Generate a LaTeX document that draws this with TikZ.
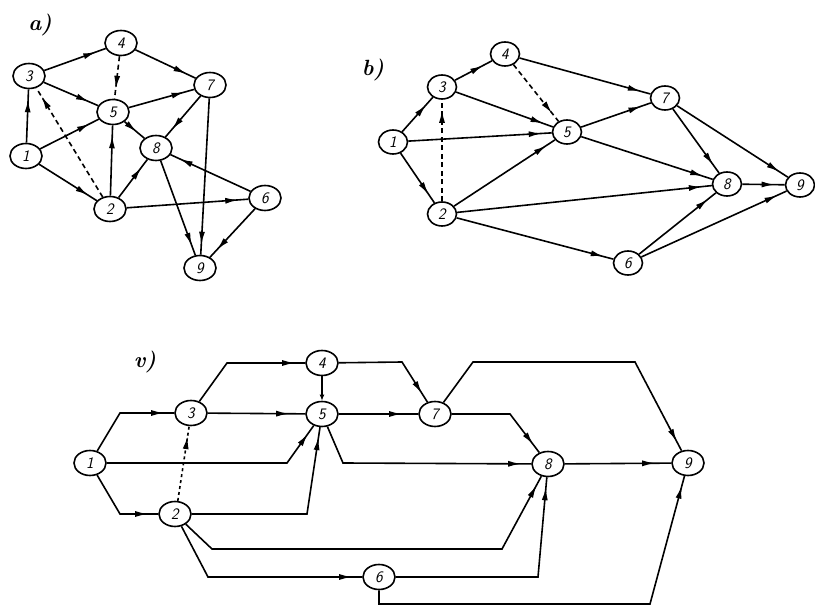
\documentclass[tikz,border=0pt]{standalone}
\usetikzlibrary{arrows.meta,decorations.markings,shapes.geometric}
\begin{document}
\begin{tikzpicture}[x=1pt,y=-1pt,
  nd/.style={draw,ellipse,line width=1.6pt,minimum width=32pt,minimum height=25pt,inner sep=0pt,fill=white,
    font=\fontsize{16}{16}\selectfont\sffamily\itshape},
  ndb/.style={nd,minimum width=29pt,minimum height=24pt},
  ln/.style={line width=1.6pt},
  arr/.style={ln,postaction={decorate},decoration={markings,mark=at position -#1 with {\arrow{Latex[length=13pt,width=6pt]}}}},
  arr/.default=10pt,
  dsh/.style={dash pattern=on 5pt off 3.5pt},
  lab/.style={font=\fontsize{22}{22}\selectfont\bfseries\itshape}
]
\useasboundingbox (0,0) rectangle (815,609);
% ---------- a) ----------
\node[lab] (la) at (40,25) {a)};
\node[nd] (a4) at (121,43) {4};
\node[nd] (a3) at (29,76) {3};
\node[nd] (a7) at (210,85) {7};
\node[nd] (a5) at (113,112) {5};
\node[nd] (a8) at (156,148) {8};
\node[nd] (a1) at (26,156) {1};
\node[nd] (a2) at (110,209) {2};
\node[nd] (a6) at (265,198) {6};
\node[nd] (a9) at (200,268) {9};
\draw[arr] (a3) -- (a4);
\draw[arr] (a4) -- (a7);
\draw[arr,dsh] (a4) -- (a5);
\draw[arr] (a3) -- (a5);
\draw[arr] (a5) -- (a7);
\draw[arr] (a1) -- (a3);
\draw[arr] (a1) -- (a5);
\draw[arr] (a1) -- (a2);
\draw[arr,dsh] (a2) -- (a3);
\draw[arr] (a2) -- (a5);
\draw[arr] (a2) -- (a8);
\draw[arr] (a2) -- (a6);
\draw[arr] (a5) -- (a8);
\draw[arr] (a7) -- (a8);
\draw[arr] (a7) -- (a9);
\draw[arr] (a8) -- (a9);
\draw[arr] (a6) -- (a8);
\draw[arr] (a6) -- (a9);
% ---------- b) ----------
\node[lab] (lb) at (373,70) {b)};
\node[ndb] (b4) at (505,54) {4};
\node[ndb] (b3) at (442,87) {3};
\node[ndb] (b7) at (665,98) {7};
\node[ndb] (b1) at (393,142) {1};
\node[ndb] (b5) at (567,132) {5};
\node[ndb] (b8) at (727,184) {8};
\node[ndb] (b9) at (800,185) {9};
\node[ndb] (b2) at (442,214) {2};
\node[ndb] (b6) at (628,263) {6};
\draw[arr] (b1) -- (b3);
\draw[arr] (b1) -- (b5);
\draw[arr] (b1) -- (b2);
\draw[arr] (b3) -- (b4);
\draw[arr] (b3) -- (b5);
\draw[arr,dsh] (b4) -- (b5);
\draw[arr,dsh] (b2) -- (b3);
\draw[arr] (b4) -- (b7);
\draw[arr] (b2) -- (b5);
\draw[arr] (b2) -- (b8);
\draw[arr] (b2) -- (b6);
\draw[arr] (b5) -- (b7);
\draw[arr] (b5) -- (b8);
\draw[arr] (b7) -- (b8);
\draw[arr] (b7) -- (b9);
\draw[arr] (b8) -- (b9);
\draw[arr] (b6) -- (b8);
\draw[arr] (b6) -- (b9);
% ---------- v) ----------
\node[lab] (lv) at (145,362) {v)};
\node[nd] (v1) at (90,463) {1};
\node[nd] (v3) at (191,413) {3};
\node[nd] (v4) at (322,363) {4};
\node[nd] (v5) at (322,414) {5};
\node[nd] (v7) at (435,414) {7};
\node[nd] (v2) at (175,514) {2};
\node[nd] (v6) at (379,577) {6};
\node[nd] (v8) at (548,464) {8};
\node[nd] (v9) at (688,463) {9};
\coordinate (c13) at (120,413);
\coordinate (c12) at (120,514);
\coordinate (c15) at (287,463);
\coordinate (c34) at (227,363);
\coordinate (c25) at (307,514);
\coordinate (c47) at (402,362);
\coordinate (c58) at (343,463);
\coordinate (c79a) at (473,362);
\coordinate (c79b) at (635,362);
\coordinate (c78) at (510,414);
\coordinate (c28a) at (212,549);
\coordinate (c28b) at (502,549);
\coordinate (c26) at (208,577);
\coordinate (c68) at (538,577);
\coordinate (c69a) at (379,604);
\coordinate (c69b) at (650,604);
\draw[arr] (v1) -- (c13) -- (v3);
\draw[arr] (v1) -- (c12) -- (v2);
\draw[arr] (v1) -- (c15) -- (v5);
\draw[arr] (v3) -- (c34) -- (v4);
\draw[arr=16pt] (v3) -- (v5);
\draw[arr,dash pattern=on 3pt off 3pt] (v2.78) -- (v3.262);
\draw[arr] (v2) -- (c25) -- (v5);
\draw[ln,-{Latex[length=6pt,width=5pt]}] (v4) -- (v5);
\draw[arr] (v4) -- (c47) -- (v7);
\draw[arr=16pt] (v5) -- (v7);
\draw[arr] (v5) -- (c58) -- (v8);
\draw[arr] (v7) -- (c79a) -- (c79b) -- (v9);
\draw[arr] (v7) -- (c78) -- (v8);
\draw[arr=16pt] (v8) -- (v9);
\draw[arr] (v2) -- (c28a) -- (c28b) -- (v8);
\draw[arr] (v2) -- (c26) -- (v6);
\draw[arr] (v6) -- (c68) -- (v8);
\draw[arr] (v6) -- (c69a) -- (c69b) -- (v9);
\end{tikzpicture}
\end{document}
